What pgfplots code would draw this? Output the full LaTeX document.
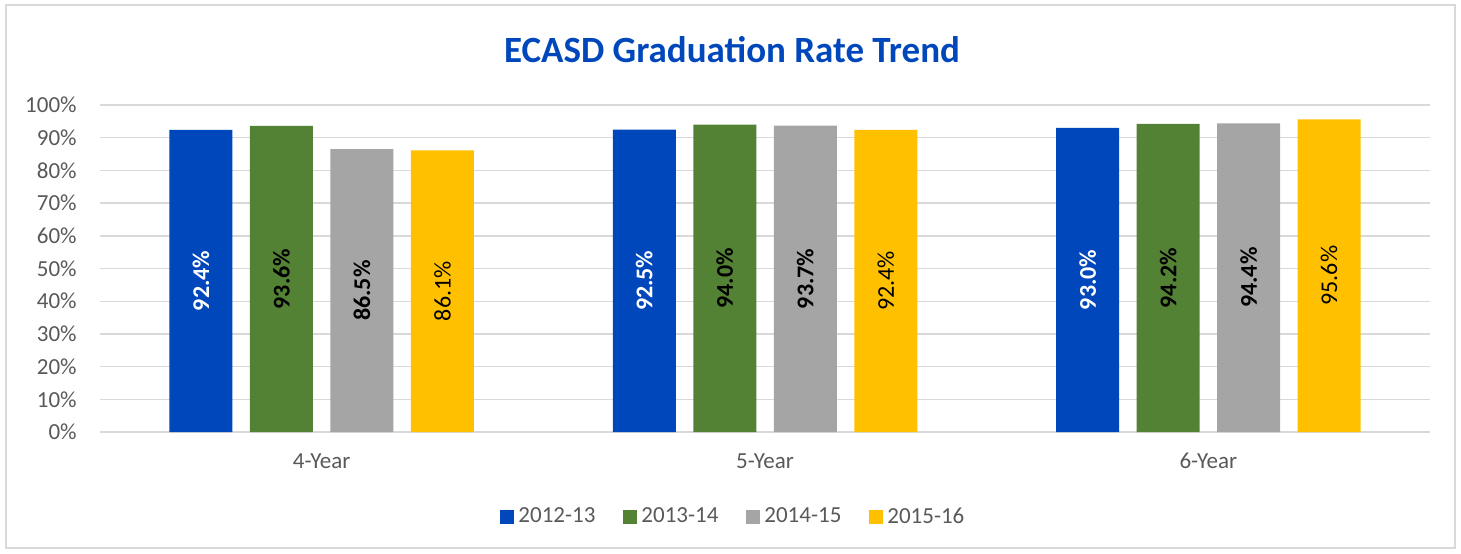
\documentclass[border=0pt]{standalone}
\usepackage{pgfplots}
\pgfplotsset{compat=1.18}
\usepackage{fontspec}
\setmainfont{Carlito}
\definecolor{cBlue}{HTML}{0047BB}
\definecolor{cGreen}{HTML}{548235}
\definecolor{cGray}{HTML}{A5A5A5}
\definecolor{cGold}{HTML}{FFC000}
\definecolor{txt}{HTML}{595959}
\definecolor{gridc}{HTML}{D9D9D9}
\begin{document}
\begin{tikzpicture}[x=1pt,y=1pt]
\useasboundingbox (0,0) rectangle (730.5,276.5);
\draw[gridc, line width=0.7pt] (3,2.5) rectangle (727.5,274);
\node[font=\fontsize{18.5}{22}\selectfont\bfseries, text=cBlue] at (366,251.5) {ECASD Graduation Rate Trend};
\begin{axis}[
  at={(50pt,60.5pt)}, anchor=south west,
  scale only axis, width=665pt, height=163.5pt,
  ymin=0, ymax=100, xmin=-0.5, xmax=2.5,
  ytick={0,10,...,100},
  xtick={0,1,2}, xticklabels={4-Year,5-Year,6-Year},
  major tick length=0pt,
  axis line style={draw=none},
  ymajorgrids, grid style={gridc, line width=0.7pt},
  /pgf/number format/assume math mode=true,
  yticklabel={\pgfmathprintnumber{\tick}\%},
  ticklabel style={font=\fontsize{11.5}{13}\selectfont, text=txt, inner sep=0pt},
  yticklabel shift=11.5pt,
  xticklabel shift=10.5pt,
  ybar=8.75pt, bar width=31.5pt,
  legend style={draw=none, legend columns=4, font=\fontsize{11.5}{13}\selectfont, text=txt,
    at={(0.477,-0.26)}, anchor=center,
    /tikz/every even column/.append style={column sep=12pt}},
  legend image code/.code={\fill[#1,draw=none] (0pt,-3.5pt) rectangle (7pt,3.5pt);},
  nodes near coords={\pgfmathprintnumber[fixed,fixed zerofill,precision=1]{\pgfplotspointmeta}\%},
  visualization depends on=y \as \rawy,
  every node near coord/.append style={shift={(axis direction cs:0,-\rawy/2)}, rotate=90, anchor=center, font=\fontsize{12}{14}\selectfont},
]
\addplot[fill=cBlue, draw=none, nodes near coords style={text=white, font=\fontsize{12}{14}\selectfont\bfseries}] coordinates {(0,92.4) (1,92.5) (2,93.0)};
\addplot[fill=cGreen, draw=none, nodes near coords style={text=black, font=\fontsize{12}{14}\selectfont\bfseries}] coordinates {(0,93.6) (1,94.0) (2,94.2)};
\addplot[fill=cGray, draw=none, nodes near coords style={text=black, font=\fontsize{12}{14}\selectfont\bfseries}] coordinates {(0,86.5) (1,93.7) (2,94.4)};
\addplot[fill=cGold, draw=none, nodes near coords style={text=black}] coordinates {(0,86.1) (1,92.4) (2,95.6)};
\legend{2012-13,2013-14,2014-15,2015-16}
\end{axis}
\end{tikzpicture}
\end{document}
